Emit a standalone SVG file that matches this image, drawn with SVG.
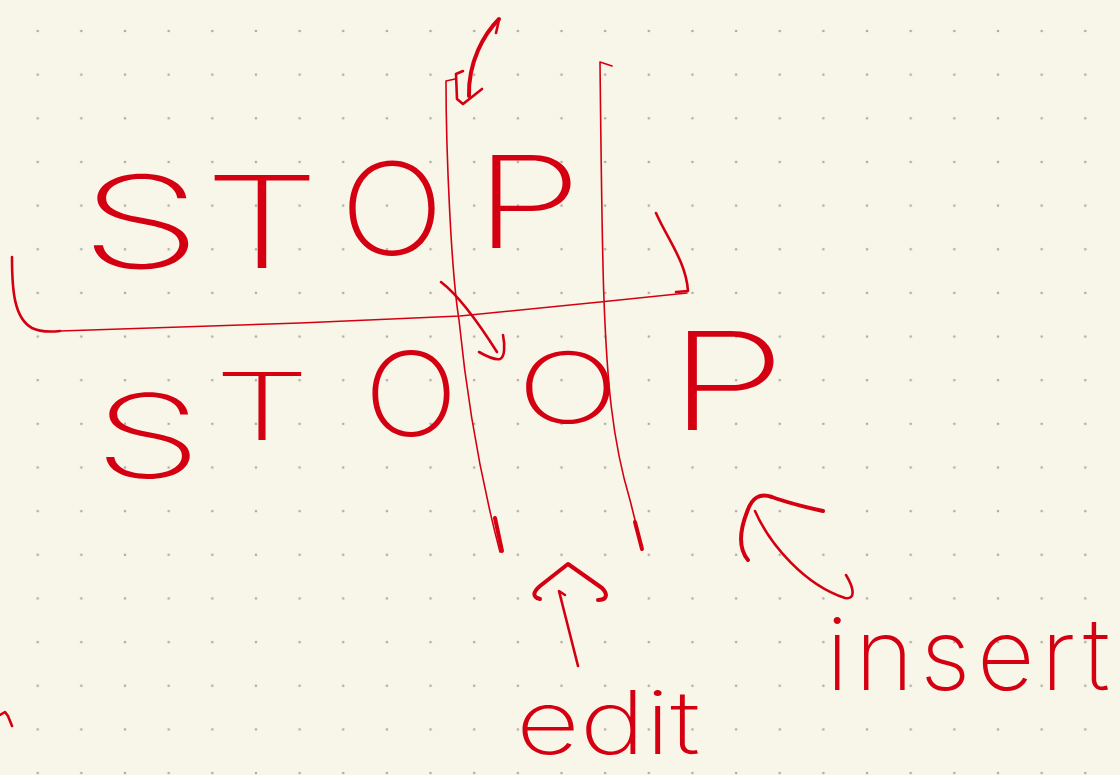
<svg xmlns="http://www.w3.org/2000/svg" width="1120" height="775" viewBox="0 0 1120 775">
<defs>
<pattern id="dots" patternUnits="userSpaceOnUse" x="15.875" y="9.175" width="43.65" height="43.65">
<circle cx="21.825" cy="21.825" r="1.3" fill="#aeaca4"/>
</pattern>
<style>
.ink{fill:none;stroke:#d40012;stroke-linecap:round;stroke-linejoin:round}
.thin{stroke-width:1.6}
.mid{stroke-width:2.6}
.thick{stroke-width:4}
.hand{fill:#d40012;font-family:Inter,"DejaVu Sans","Liberation Sans",sans-serif;font-weight:160}
</style>
</defs>
<rect width="1120" height="775" fill="#f8f5e9"/>
<rect width="1120" height="775" fill="url(#dots)"/>

<g id="word-stop">
<text class="hand"><tspan x="80" y="268" font-size="128" textLength="122" lengthAdjust="spacingAndGlyphs">S</tspan><tspan x="204" y="268" font-size="128" textLength="116" lengthAdjust="spacingAndGlyphs">T</tspan><tspan x="340" y="255" font-size="128" textLength="104" lengthAdjust="spacingAndGlyphs">O</tspan><tspan x="474" y="248" font-size="128" textLength="108" lengthAdjust="spacingAndGlyphs">P</tspan></text>
</g>

<g id="word-stoop">
<text class="hand"><tspan x="94" y="478" font-size="116" textLength="108" lengthAdjust="spacingAndGlyphs">S</tspan><tspan x="214" y="440" font-size="94" textLength="96" lengthAdjust="spacingAndGlyphs">T</tspan><tspan x="364" y="436" font-size="116" textLength="94" lengthAdjust="spacingAndGlyphs">O</tspan><tspan x="517" y="423" font-size="98" textLength="102" lengthAdjust="spacingAndGlyphs">O</tspan><tspan x="668" y="430" font-size="136" textLength="118" lengthAdjust="spacingAndGlyphs">P</tspan></text>
</g>

<g id="label-edit">
<text class="hand" x="516" y="754" font-size="88" textLength="184" lengthAdjust="spacingAndGlyphs">edit</text>
</g>

<g id="label-insert">
<text class="hand" x="826" y="690" font-size="100" textLength="284" lengthAdjust="spacing">insert</text>
</g>

<g id="connectors">
<!-- bracket under STOP -->
<path class="ink mid" d="M12,257 C12,290 14,318 32,328 C40,332 50,332 60,331"/>
<path class="ink thin" d="M60,331 L300,323 L460,316 L600,302 L687,293"/>
<path class="ink mid" d="M656,213 C668,240 686,262 688,291 L676,292"/>
<!-- vertical line 1 -->
<path class="ink thin" d="M455,79 L446,81 C446,150 451,270 459,320 C467,400 481,480 500,552"/>
<path class="ink thick" d="M495,518 L502,551"/>
<!-- vertical line 2 -->
<path class="ink thin" d="M612,66 L600,62 C601,150 602,250 604,300 C607,380 612,440 630,500 L642,548"/>
<path class="ink thick" d="M635,522 L642,549"/>
<!-- curved arrow at top -->
<path class="ink thick" d="M499,19 C484,34 468,62 469,96"/>
<path class="ink mid" d="M499,20 L496,33"/>
<path class="ink mid" d="M463,71 L456,74 L457,99 L463,104 L482,89"/>
<!-- diagonal arrow -->
<path class="ink mid" d="M441,282 C458,295 478,322 497,352"/>
<path class="ink mid" d="M479,352 C486,356 495,360 500,359 C505,357 505,345 503,335"/>
<!-- edit arrow -->
<path class="ink thick" d="M540,599 C532,597 533,592 540,586 L568,564 L602,588 C609,595 606,600 598,600"/>
<path class="ink mid" d="M565,595 L559,591 L578,666"/>
<!-- insert arrow -->
<path class="ink thick" d="M748,560 C738,548 740,530 747,512 C752,497 760,493 772,497 C788,503 805,507 823,511"/>
<path class="ink mid" d="M755,511 C770,545 805,585 845,598 C856,600 854,588 846,575"/>
<!-- stray mark bottom left -->
<path class="ink mid" d="M0,715 L5,712 L8,716 L12,726"/>
</g>
</svg>
